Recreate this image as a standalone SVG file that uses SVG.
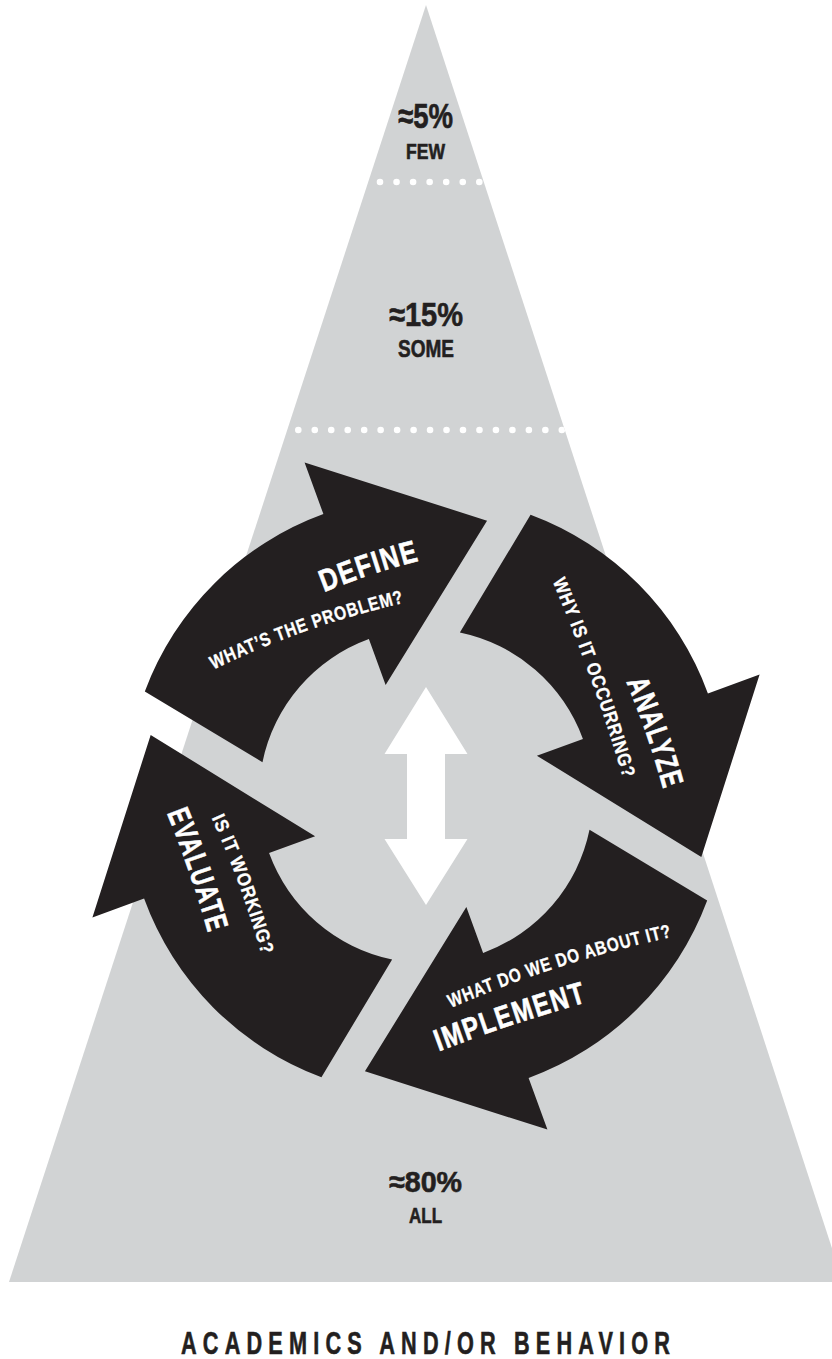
<svg xmlns="http://www.w3.org/2000/svg" width="832" height="1359" viewBox="0 0 832 1359">
<style>
  .tri{fill:#d1d3d4}
  .arw{fill:#231f20}
  .wt{fill:#ffffff}
  text{font-family:"Liberation Sans",Arial,sans-serif;font-weight:bold}
  .t{fill:#ffffff;stroke:#ffffff;stroke-width:0.6px;font-size:31px;letter-spacing:2px}
  .s{fill:#ffffff;stroke:#ffffff;stroke-width:0.3px;font-size:19px;letter-spacing:1px}
  .k{fill:#231f20;stroke:#231f20;stroke-width:0.6px;text-anchor:middle}
  .dots{stroke:#ffffff;stroke-linecap:round;stroke-width:6.6;fill:none}
</style>
<defs>
  <clipPath id="triClip"><polygon points="426,5 843,1282 9,1282"/></clipPath>
  <path id="cyc" d="M144.82,691.43 A300,300 0 0 1 323.39,514.09 L304.58,462.41 L487.04,520.68 L385.64,685.12 L368.88,639.07 A167,167 0 0 0 262.47,762.13 Z"/>
  <path id="pDef" d="M-92.6,2.5 Q0,-6.5 92.6,2.5"/>
  <path id="pDefS" d="M-186.6,7.5 Q0,-19.5 186.6,7.5"/>
  <path id="pAna" d="M-119.2,2.5 Q0,-6.5 119.2,2.5"/>
  <path id="pAnaS" d="M-182.1,3.75 Q0,-9.75 182.1,3.75"/>
  <path id="pEva" d="M-135.4,2.5 Q0,-6.5 135.4,2.5"/>
  <path id="pEvaS" d="M-123,3.75 Q0,-9.75 123,3.75"/>
  <path id="pImp" d="M-149.1,2.5 Q0,-6.5 149.1,2.5"/>
  <path id="pImpS" d="M-217.2,7.5 Q0,-19.5 217.2,7.5"/>
</defs>

<g id="pyramid">
  <polygon class="tri" points="426,5 843,1282 9,1282"/>
  <g clip-path="url(#triClip)">
    <line class="dots" x1="380" y1="182" x2="481" y2="182" stroke-dasharray="0 16.55"/>
    <line class="dots" x1="298.3" y1="430" x2="563" y2="430" stroke-dasharray="0 16.47"/>
  </g>
</g>

<g id="tier-few">
  <text class="k" x="425.5" y="128" font-size="35" textLength="55" lengthAdjust="spacingAndGlyphs">≈5%</text>
  <text class="k" x="425.5" y="159" font-size="22" textLength="39" lengthAdjust="spacingAndGlyphs">FEW</text>
</g>
<g id="tier-some">
  <text class="k" x="426" y="326" font-size="33.5" textLength="74" lengthAdjust="spacingAndGlyphs">≈15%</text>
  <text class="k" x="426" y="357" font-size="23.5" textLength="56" lengthAdjust="spacingAndGlyphs">SOME</text>
</g>
<g id="tier-all">
  <text class="k" x="425.5" y="1192" font-size="30" textLength="73" lengthAdjust="spacingAndGlyphs">≈80%</text>
  <text class="k" x="425.5" y="1223" font-size="22" textLength="33" lengthAdjust="spacingAndGlyphs">ALL</text>
</g>

<g id="connectors">
  <polygon class="wt" points="426,687 467.5,754 445,754 445,839 467.5,839 426,905 384.5,839 407,839 407,754 384.5,754"/>
</g>

<g id="define">
  <use href="#cyc" class="arw"/>
  <g transform="translate(372.2,576.4) rotate(-18.3) scale(0.81,1)">
    <text class="t" text-anchor="middle"><textPath href="#pDef" startOffset="50%">DEFINE</textPath></text>
  </g>
  <g transform="translate(309,636.3) rotate(-19.3) scale(0.82,1)">
    <text class="s" text-anchor="middle"><textPath href="#pDefS" startOffset="50%">WHAT’S THE PROBLEM?</textPath></text>
  </g>
</g>

<g id="analyze">
  <use href="#cyc" class="arw" transform="rotate(90 426 796)"/>
  <g transform="translate(644.9,736.1) rotate(71) scale(0.73,1)">
    <text class="t" text-anchor="middle"><textPath href="#pAna" startOffset="50%">ANALYZE</textPath></text>
  </g>
  <g transform="translate(588,680) rotate(70.3) scale(0.865,1)">
    <text class="s" text-anchor="middle"><textPath href="#pAnaS" startOffset="50%">WHY IS IT OCCURRING?</textPath></text>
  </g>
</g>

<g id="implement">
  <use href="#cyc" class="arw" transform="rotate(180 426 796)"/>
  <g transform="translate(513.3,1026.7) rotate(-18.4) scale(0.785,1)">
    <text class="t" text-anchor="middle"><textPath href="#pImp" startOffset="50%">IMPLEMENT</textPath></text>
  </g>
  <g transform="translate(561.7,972.5) rotate(-17.8) scale(0.81,1)">
    <text class="s" text-anchor="middle"><textPath href="#pImpS" startOffset="50%">WHAT DO WE DO ABOUT IT?</textPath></text>
  </g>
</g>

<g id="evaluate">
  <use href="#cyc" class="arw" transform="rotate(270 426 796)"/>
  <g transform="translate(187.6,873.6) rotate(71) scale(0.72,1)">
    <text class="t" text-anchor="middle"><textPath href="#pEva" startOffset="50%">EVALUATE</textPath></text>
  </g>
  <g transform="translate(236.6,886.7) rotate(70) scale(0.89,1)">
    <text class="s" text-anchor="middle"><textPath href="#pEvaS" startOffset="50%">IS IT WORKING?</textPath></text>
  </g>
</g>

<g id="caption">
  <text class="k" transform="translate(425.5,1354) scale(0.7,1)" x="0" y="0" font-size="31" textLength="698.6" lengthAdjust="spacing">ACADEMICS AND/OR BEHAVIOR</text>
</g>
</svg>
